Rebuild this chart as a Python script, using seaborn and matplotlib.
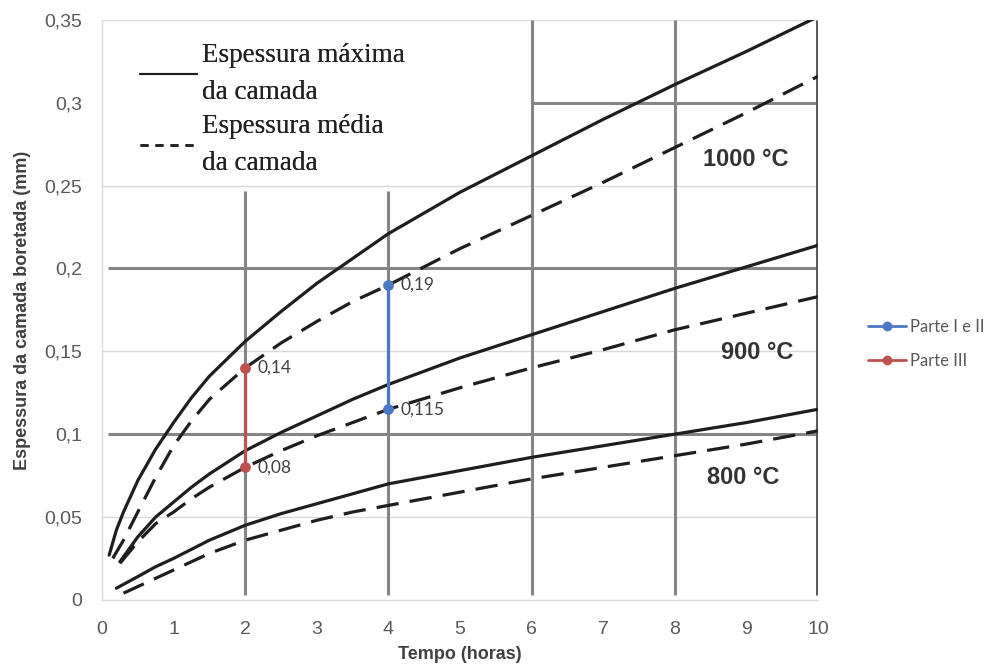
import numpy as np
import pandas as pd
import seaborn as sns
import matplotlib.pyplot as plt
from matplotlib.lines import Line2D
from matplotlib.ticker import FuncFormatter, MultipleLocator

sns.set_style("white")
plt.rcParams['font.family'] = ['Liberation Sans', 'DejaVu Sans']

# curvas (tempo em horas, espessura em mm)
t_1000_max = [0.1, 0.2, 0.3, 0.5, 0.75, 1, 1.25, 1.5, 2, 2.5, 3, 3.5, 4, 5, 6, 7, 8, 9, 10]
e_1000_max = [0.027, 0.042, 0.053, 0.072, 0.091, 0.107, 0.122, 0.135, 0.156, 0.174, 0.191, 0.206, 0.221,
              0.246, 0.268, 0.290, 0.311, 0.331, 0.352]
t_1000_med = [0.15, 0.3, 0.5, 0.75, 1, 1.25, 1.5, 2, 2.5, 3, 3.5, 4, 5, 6, 7, 8, 9, 10]
e_1000_med = [0.025, 0.036, 0.053, 0.074, 0.093, 0.108, 0.121, 0.140, 0.155, 0.168, 0.180, 0.190,
              0.212, 0.232, 0.252, 0.273, 0.294, 0.316]

t_900_max = [0.25, 0.5, 0.75, 1, 1.25, 1.5, 1.75, 2, 2.5, 3, 3.5, 4, 5, 6, 7, 8, 9, 10]
e_900_max = [0.023, 0.038, 0.050, 0.059, 0.068, 0.076, 0.083, 0.090, 0.101, 0.111, 0.121, 0.130,
             0.146, 0.160, 0.174, 0.188, 0.201, 0.214]
t_900_med = [0.25, 0.5, 0.75, 1, 1.25, 1.5, 1.75, 2, 2.5, 3, 3.5, 4, 5, 6, 7, 8, 9, 10]
e_900_med = [0.022, 0.035, 0.046, 0.053, 0.061, 0.068, 0.074, 0.080, 0.090, 0.099, 0.107, 0.115,
             0.128, 0.140, 0.151, 0.163, 0.173, 0.183]

t_800_max = [0.2, 0.5, 0.75, 1, 1.5, 2, 2.5, 3, 3.5, 4, 5, 6, 7, 8, 9, 10]
e_800_max = [0.007, 0.014, 0.020, 0.025, 0.036, 0.045, 0.052, 0.058, 0.064, 0.070, 0.078, 0.086,
             0.093, 0.100, 0.107, 0.115]
t_800_med = [0.3, 0.5, 0.75, 1, 1.5, 2, 2.5, 3, 3.5, 4, 5, 6, 7, 8, 9, 10]
e_800_med = [0.004, 0.008, 0.013, 0.018, 0.028, 0.036, 0.042, 0.048, 0.053, 0.057, 0.065, 0.073,
             0.080, 0.087, 0.094, 0.102]

# series destacadas
parte12_x = [4, 4]
parte12_y = [0.19, 0.115]
parte3_x = [2, 2]
parte3_y = [0.14, 0.08]

temp_labels = ['1000 °C', '900 °C', '800 °C']
temp_label_pos = [(8.4, 0.266), (8.65, 0.149), (8.45, 0.074)]

curves = [
    ('1000', 'max', t_1000_max, e_1000_max),
    ('1000', 'med', t_1000_med, e_1000_med),
    ('900', 'max', t_900_max, e_900_max),
    ('900', 'med', t_900_med, e_900_med),
    ('800', 'max', t_800_max, e_800_max),
    ('800', 'med', t_800_med, e_800_med),
]
dfs = []
for temp, kind, t, e in curves:
    d = pd.DataFrame({'Tempo': t, 'Espessura': e})
    d['curva'] = temp + '_' + kind
    d['tipo'] = kind
    dfs.append(d)
df = pd.concat(dfs).reset_index(drop=True)

fig = plt.figure(figsize=(10, 6.65), dpi=100)
ax = fig.add_axes([0.102, 0.098, 0.716, 0.872])

# grade clara
for y in [0.05, 0.15, 0.25, 0.35]:
    ax.axhline(y, color='#d9d9d9', lw=1, zorder=0)
# grade escura (da figura original)
gcol = '#858585'
ax.hlines([0.1, 0.2], 0.08, 10, colors=gcol, lw=2.2, zorder=1)
ax.hlines([0.3], 6, 10, colors=gcol, lw=2.2, zorder=1)
ax.vlines([2, 4], 0.003, 0.247, colors=gcol, lw=2.2, zorder=1)
ax.vlines([6, 8], 0.003, 0.35, colors=gcol, lw=2.2, zorder=1)
ax.vlines([10], 0.003, 0.35, colors='#555555', lw=3.5, zorder=1)

sns.lineplot(data=df, x='Tempo', y='Espessura', units='curva', style='tipo',
             estimator=None, sort=True, color='#1e1e1e', lw=2.3,
             dashes={'max': '', 'med': (7, 3.5)}, legend=False, ax=ax, zorder=3)

blue = '#4a78c2'
red = '#c0504d'
sns.lineplot(x=parte12_x, y=parte12_y, color=blue, lw=2.3, marker='o', markersize=7,
             markeredgecolor=blue, estimator=None, sort=False, ax=ax, zorder=4)
sns.lineplot(x=parte3_x, y=parte3_y, color=red, lw=2.3, marker='o', markersize=7,
             markeredgecolor=red, estimator=None, sort=False, ax=ax, zorder=4)

def fmt(v):
    return ('%g' % v).replace('.', ',')

for xs, ys in [(parte12_x, parte12_y), (parte3_x, parte3_y)]:
    for x, y in zip(xs, ys):
        ax.annotate(fmt(y), (x, y), xytext=(9, 0), textcoords='offset points',
                    va='center', ha='left', fontsize=12.5, color='#404040',
                    family=['Lato', 'DejaVu Sans'], zorder=5)

for lab, (x, y) in zip(temp_labels, temp_label_pos):
    ax.text(x, y, lab, fontsize=17, fontweight='bold', color='#333333',
            va='center', ha='left', zorder=5)

ax.set_xlim(0, 10)
ax.set_ylim(0, 0.35)
ax.xaxis.set_major_locator(MultipleLocator(1))
ax.yaxis.set_major_locator(MultipleLocator(0.05))
ax.yaxis.set_major_formatter(FuncFormatter(lambda v, p: ('%g' % round(v, 3)).replace('.', ',')))
ax.tick_params(axis='both', labelsize=14, labelcolor='#595959', length=0)
ax.tick_params(axis='x', pad=15)
ax.tick_params(axis='y', pad=14)
for s in ['top', 'right']:
    ax.spines[s].set_visible(False)
for s in ['left', 'bottom']:
    ax.spines[s].set_color('#d9d9d9')
    ax.spines[s].set_linewidth(1)

ax.set_xlabel('Tempo (horas)', fontsize=13, fontweight='bold', color='#404040', labelpad=6)
ax.set_ylabel('Espessura da camada boretada (mm)', fontsize=13, fontweight='bold',
              color='#404040', labelpad=10)

# legenda do grafico original
h_max = Line2D([], [], color='#1e1e1e', lw=1.5)
h_med = Line2D([], [], color='#1e1e1e', lw=1.8, dashes=(3.2, 2.8))
leg1 = ax.legend([h_max, h_med], ['Espessura máxima\nda camada', 'Espessura média\nda camada'],
                 loc='upper left', bbox_to_anchor=(0.028, 0.99), frameon=False,
                 prop={'family': 'Liberation Serif', 'size': 19.5}, handlelength=2.1,
                 handletextpad=0.2, labelspacing=0.32, borderaxespad=0.25)
for t in leg1.get_texts():
    t.set_color('#222222')
    t.set_linespacing(1.62)
ax.add_artist(leg1)

# legenda das series destacadas
h_b = Line2D([], [], color=blue, lw=2, marker='o', markersize=6)
h_r = Line2D([], [], color=red, lw=2, marker='o', markersize=6)
leg2 = fig.legend([h_b, h_r], ['Parte I e II', 'Parte III'], loc='center left',
                  bbox_to_anchor=(0.853, 0.483), frameon=False,
                  prop={'family': ['Lato', 'DejaVu Sans'], 'size': 12},
                  handlelength=2.3, handletextpad=0.2, labelspacing=1.1)
for t in leg2.get_texts():
    t.set_color('#595959')

fig.savefig('out.png', dpi=100)
